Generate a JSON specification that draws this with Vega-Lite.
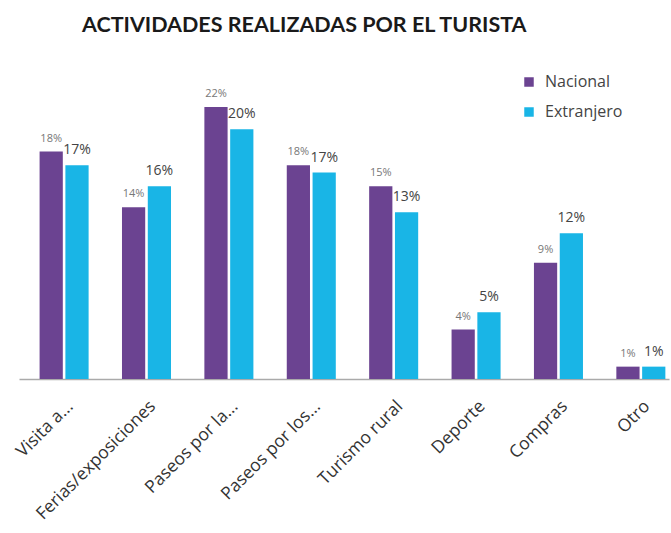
{
  "$schema": "https://vega.github.io/schema/vega-lite/v6.json",
  "autosize": {"type": "none"},
  "width": 650,
  "height": 309,
  "padding": {"left": 19, "top": 70, "right": 2, "bottom": 154},
  "background": "white",
  "config": {"view": {"stroke": null}},
  "title": {
    "text": "ACTIVIDADES REALIZADAS POR EL TURISTA",
    "anchor": "start",
    "dx": 69,
    "offset": 34,
    "font": "Lato",
    "fontSize": 21.5,
    "fontWeight": "bold",
    "color": "#1a1a1a"
  },
  "data": {
    "values": [
      {"actividad": "Visita a...", "origen": "Nacional", "pct": 18.4, "etiqueta": "18%"},
      {"actividad": "Visita a...", "origen": "Extranjero", "pct": 17.3, "etiqueta": "17%"},
      {"actividad": "Ferias/exposiciones", "origen": "Nacional", "pct": 13.9, "etiqueta": "14%"},
      {"actividad": "Ferias/exposiciones", "origen": "Extranjero", "pct": 15.6, "etiqueta": "16%"},
      {"actividad": "Paseos por la...", "origen": "Nacional", "pct": 22.0, "etiqueta": "22%"},
      {"actividad": "Paseos por la...", "origen": "Extranjero", "pct": 20.2, "etiqueta": "20%"},
      {"actividad": "Paseos por los...", "origen": "Nacional", "pct": 17.3, "etiqueta": "18%"},
      {"actividad": "Paseos por los...", "origen": "Extranjero", "pct": 16.7, "etiqueta": "17%"},
      {"actividad": "Turismo rural", "origen": "Nacional", "pct": 15.6, "etiqueta": "15%"},
      {"actividad": "Turismo rural", "origen": "Extranjero", "pct": 13.5, "etiqueta": "13%"},
      {"actividad": "Deporte", "origen": "Nacional", "pct": 4.0, "etiqueta": "4%"},
      {"actividad": "Deporte", "origen": "Extranjero", "pct": 5.4, "etiqueta": "5%"},
      {"actividad": "Compras", "origen": "Nacional", "pct": 9.4, "etiqueta": "9%"},
      {"actividad": "Compras", "origen": "Extranjero", "pct": 11.8, "etiqueta": "12%"},
      {"actividad": "Otro", "origen": "Nacional", "pct": 1.0, "etiqueta": "1%"},
      {"actividad": "Otro", "origen": "Extranjero", "pct": 1.0, "etiqueta": "1%"}
    ]
  },
  "encoding": {
    "x": {
      "field": "actividad",
      "type": "nominal",
      "sort": null,
      "scale": {"paddingInner": 0.405, "paddingOuter": 0.147, "align": 0.85},
      "axis": {
        "title": null,
        "ticks": false,
        "grid": false,
        "labelAngle": -45,
        "labelFont": "Open Sans",
        "labelFontSize": 17.5,
        "labelColor": "#333333",
        "labelPadding": 18,
        "labelLimit": 300,
        "domainColor": "#aaaaaa",
        "domainWidth": 1.5
      }
    },
    "xOffset": {
      "field": "origen",
      "sort": ["Nacional", "Extranjero"],
      "scale": {"paddingInner": 0.1}
    },
    "y": {
      "field": "pct",
      "type": "quantitative",
      "scale": {"domain": [0, 25]},
      "axis": null
    }
  },
  "layer": [
    {
      "mark": {"type": "bar"},
      "encoding": {
        "color": {
          "field": "origen",
          "type": "nominal",
          "sort": ["Nacional", "Extranjero"],
          "scale": {"domain": ["Nacional", "Extranjero"], "range": ["#6B4391", "#19B5E6"]},
          "legend": {
            "title": null,
            "orient": "none",
            "legendX": 502,
            "legendY": 4,
            "symbolType": "square",
            "symbolSize": 90,
            "labelFont": "Open Sans",
            "labelFontSize": 16,
            "labelColor": "#444444",
            "labelOffset": 8,
            "rowPadding": 14
          }
        }
      }
    },
    {
      "mark": {"type": "text", "baseline": "bottom", "dy": -8, "font": "Open Sans"},
      "encoding": {
        "text": {"field": "etiqueta"},
        "size": {"condition": {"test": "datum.origen == 'Nacional'", "value": 11}, "value": 14},
        "color": {"condition": {"test": "datum.origen == 'Nacional'", "value": "#777777"}, "value": "#444444"}
      }
    }
  ]
}
